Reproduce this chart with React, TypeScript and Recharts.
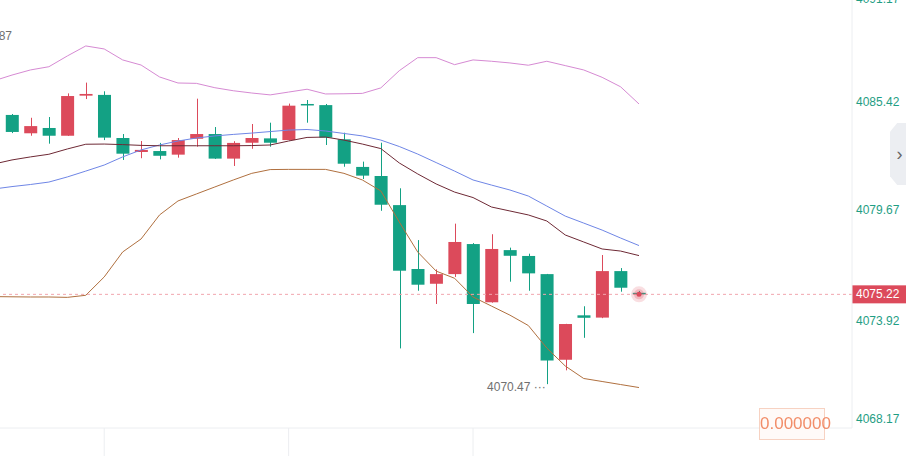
import React from "react";
import {
	ComposedChart,
	Bar,
	Line,
	XAxis,
	YAxis,
	ReferenceLine,
	ReferenceDot,
} from "recharts";

const RED = "#dc4a5b";
const GREEN = "#13a184";
const TICK_GREEN = "#1f9e84";
const GRID = "#eceef1";

// candle index (-1 is only used by the indicator lines, off the left edge)
const idx = [-1, 0, 1, 2, 3, 4, 5, 6, 7, 8, 9, 10, 11, 12, 13, 14, 15, 16, 17, 18, 19, 20, 21, 22, 23, 24, 25, 26, 27, 28, 29, 30, 31, 32, 33, 34];

const opens = [null, 4084.71, 4083.74, 4084.02, 4083.61, 4085.73, 4085.77, 4083.49, 4082.75, 4082.8, 4082.61, 4083.45, 4083.7, 4082.4, 4083.24, 4083.47, 4083.38, 4085.29, 4085.23, 4083.42, 4081.96, 4081.48, 4079.94, 4076.56, 4075.78, 4076.29, 4077.88, 4074.8, 4077.56, 4077.25, 4076.29, 4071.76, 4074.11, 4073.99, 4076.45, 4075.3];
const highs = [null, 4084.76, 4084.56, 4084.6, 4085.85, 4086.42, 4085.96, 4083.7, 4083.33, 4083.23, 4083.49, 4085.57, 4084.07, 4083.32, 4084.23, 4084.3, 4085.31, 4085.5, 4085.29, 4083.77, 4082.24, 4083.24, 4080.83, 4078.09, 4076.54, 4078.96, 4077.93, 4078.4, 4077.69, 4077.37, 4076.3, 4073.66, 4074.59, 4077.3, 4076.61, 4075.4];
const lows = [null, 4083.75, 4083.61, 4083.19, 4083.6, 4085.55, 4083.38, 4082.33, 4082.42, 4082.36, 4082.45, 4083.03, 4082.38, 4082.01, 4082.92, 4083.03, 4083.36, 4084.3, 4083.12, 4081.97, 4081.32, 4079.64, 4072.36, 4075.41, 4074.71, 4076.14, 4073.17, 4074.78, 4075.89, 4075.41, 4070.47, 4071.2, 4072.92, 4073.96, 4075.36, 4075.15];
const closes = [null, 4083.81, 4084.12, 4083.61, 4085.71, 4085.82, 4083.51, 4082.66, 4082.86, 4082.55, 4083.38, 4083.7, 4082.4, 4083.23, 4083.49, 4083.24, 4085.2, 4085.24, 4083.51, 4082.13, 4081.5, 4079.96, 4076.47, 4075.73, 4076.29, 4077.99, 4074.71, 4077.62, 4077.26, 4076.33, 4071.72, 4073.65, 4073.98, 4076.45, 4075.57, 4075.22];

const upperBand = [4086.51, 4086.82, 4087.09, 4087.26, 4087.83, 4088.36, 4088.2, 4087.62, 4087.35, 4086.72, 4086.4, 4086.38, 4086.15, 4085.99, 4085.87, 4085.77, 4085.92, 4086.07, 4085.82, 4085.83, 4085.85, 4086.14, 4087.05, 4087.74, 4087.74, 4087.37, 4087.62, 4087.55, 4087.46, 4087.34, 4087.55, 4087.32, 4087.09, 4086.7, 4086.2, 4085.29];
const midBand = [4080.79, 4080.92, 4081.03, 4081.16, 4081.43, 4081.74, 4082.06, 4082.49, 4082.86, 4083.12, 4083.33, 4083.49, 4083.6, 4083.68, 4083.75, 4083.83, 4083.91, 4083.94, 4083.86, 4083.73, 4083.6, 4083.38, 4083.04, 4082.64, 4082.19, 4081.74, 4081.27, 4081.0, 4080.74, 4080.42, 4079.89, 4079.36, 4078.99, 4078.62, 4078.2, 4077.8];
const lowerBand = [4075.1, 4075.09, 4075.08, 4075.08, 4075.06, 4075.17, 4076.14, 4077.46, 4078.15, 4079.42, 4080.16, 4080.53, 4080.9, 4081.27, 4081.62, 4081.82, 4081.83, 4081.83, 4081.83, 4081.62, 4081.27, 4080.69, 4079.05, 4077.46, 4076.45, 4076.07, 4075.08, 4074.6, 4074.12, 4073.57, 4072.38, 4071.43, 4070.77, 4070.61, 4070.45, 4070.29];
const maLine = [4082.11, 4082.33, 4082.49, 4082.63, 4082.91, 4083.16, 4083.17, 4083.14, 4083.1, 4083.08, 4083.08, 4083.08, 4083.08, 4083.08, 4083.09, 4083.12, 4083.33, 4083.52, 4083.54, 4083.38, 4083.17, 4082.93, 4082.17, 4081.59, 4081.06, 4080.63, 4080.34, 4079.84, 4079.63, 4079.42, 4079.1, 4078.36, 4077.99, 4077.62, 4077.51, 4077.27];

const priceTicks = [4068.17, 4073.92, 4079.67, 4085.42, 4091.17];
const timeTicks = [5, 15, 25];
const lastPrice = 4075.22;
const highMark = 4088.87;
const lowMark = 4070.47;

const rows = idx.map((i, k) => ({
	i,
	open: opens[k],
	high: highs[k],
	low: lows[k],
	close: closes[k],
	upper: upperBand[k],
	mid: midBand[k],
	lower: lowerBand[k],
	ma: maLine[k],
}));

function Candle(props: any) {
	const { x, y, width, height, payload } = props;
	if (!payload || payload.open == null) return null;
	if (!isFinite(x) || !isFinite(y) || !isFinite(height)) return null;
	const { open, close, high, low } = payload;
	const top = Math.min(y, y + height);
	const h = Math.abs(height);
	const ppu = h / (high - low);
	const yOf = (v: number) => top + (high - v) * ppu;
	const color = close > open ? RED : GREEN;
	const bTop = yOf(Math.max(open, close));
	const bBot = yOf(Math.min(open, close));
	const cx = Math.round(x + width / 2) + 0.5;
	return (
		<g>
			<line x1={cx} x2={cx} y1={top} y2={top + h} stroke={color} strokeWidth={1} />
			<rect x={x} y={bTop} width={width} height={Math.max(bBot - bTop, 1.5)} fill={color} />
		</g>
	);
}

function PriceTick({ x, y, payload }: any) {
	// labels at the very top/bottom are held inside the pane
	const yy = Math.min(Math.max(y, -1.5), 419);
	const nudge = Math.abs(payload.value - 4073.92) < 0.01 ? 2 : 0;
	return (
		<text x={x + 4} y={yy + nudge} dy={4} fill={TICK_GREEN} fontSize={12} textAnchor="start">
			{Number(payload.value).toFixed(2)}
		</text>
	);
}

function TimeTick({ x, y }: any) {
	return <line x1={x} x2={x} y1={y} y2={y + 28} stroke={GRID} strokeWidth={1} />;
}

function PriceLabel({ viewBox }: any) {
	if (!viewBox) return null;
	const left = viewBox.x + viewBox.width;
	return (
		<g>
			<rect x={left} y={viewBox.y - 9} width={54} height={18} fill={RED} />
			<text x={left + 4} y={viewBox.y} dy={4} fill="#fff" fontSize={12}>
				{lastPrice.toFixed(2)}
			</text>
		</g>
	);
}

function PulseDot({ cx, cy }: any) {
	return (
		<g>
			<circle cx={cx} cy={cy} r={8} fill="rgba(220,74,91,0.18)" />
			<circle cx={cx} cy={cy} r={5} fill="rgba(220,74,91,0.25)" />
			<circle cx={cx} cy={cy} r={2.5} fill={RED} />
		</g>
	);
}

function HighText({ cx, cy }: any) {
	return (
		<text x={cx} y={cy} dy={4} fill="#707070" fontSize={12} textAnchor="end">
			{highMark.toFixed(2)}
		</text>
	);
}

function LowText({ cx, cy }: any) {
	return (
		<text x={cx - 1} y={cy + 3} dy={4} fill="#707070" fontSize={12} textAnchor="end">
			{`${lowMark.toFixed(2)} ···`}
		</text>
	);
}

export default function App() {
	return (
		<div
			style={{
				position: "absolute",
				left: 0,
				top: 0,
				width: 906,
				height: 456,
				background: "#fff",
				fontFamily: "Arial, 'Liberation Sans', sans-serif",
				overflow: "hidden",
			}}
		>
			<ComposedChart
				width={906}
				height={456}
				data={rows}
				margin={{ top: 0, right: 0, bottom: 0, left: 0 }}
			>
				<XAxis
					dataKey="i"
					type="number"
					domain={[-0.651, 45.55]}
					allowDataOverflow
					ticks={timeTicks}
					tick={<TimeTick />}
					tickLine={false}
					tickSize={0}
					tickMargin={0}
					interval={0}
					height={28}
					axisLine={{ stroke: GRID }}
				/>
				<YAxis
					orientation="right"
					type="number"
					domain={[4068.15, 4090.79]}
					allowDataOverflow
					ticks={priceTicks}
					tick={<PriceTick />}
					tickLine={false}
					tickSize={0}
					tickMargin={0}
					interval={0}
					width={54}
					axisLine={{ stroke: GRID }}
				/>
				<Bar
					dataKey={(d: any) => (d.high == null ? null : [d.low, d.high])}
					barSize={13}
					shape={<Candle />}
					isAnimationActive={false}
				/>
				<Line dataKey="upper" stroke="#d68ad3" strokeWidth={1} dot={false} isAnimationActive={false} />
				<Line dataKey="mid" stroke="#6f86e6" strokeWidth={1} dot={false} isAnimationActive={false} />
				<Line dataKey="lower" stroke="#b0703f" strokeWidth={1} dot={false} isAnimationActive={false} />
				<Line dataKey="ma" stroke="#6e2935" strokeWidth={1} dot={false} isAnimationActive={false} />
				<ReferenceLine
					y={lastPrice}
					stroke="#f1a6ae"
					strokeDasharray="3 3"
					label={<PriceLabel />}
				/>
				<ReferenceDot x={34} y={lastPrice} r={3} shape={<PulseDot />} />
				<ReferenceDot x={0} y={highMark} r={0} shape={<HighText />} />
				<ReferenceDot x={29} y={lowMark} r={0} shape={<LowText />} />
			</ComposedChart>
			<div
				style={{
					position: "absolute",
					left: 890,
					top: 123,
					width: 16,
					height: 62,
					background: "#eceef2",
					clipPath: "polygon(45% 0, 100% 0, 100% 100%, 45% 100%, 0 86%, 0 14%)",
					color: "#666",
					fontSize: 18,
					lineHeight: "62px",
					textAlign: "center",
					paddingLeft: 3,
					boxSizing: "border-box",
				}}
			>
				›
			</div>
			<div
				style={{
					position: "absolute",
					left: 759,
					top: 408,
					width: 66,
					height: 32,
					border: "1px solid #f6cbb8",
					background: "#fffaf7",
					color: "#f07a50",
					fontSize: 17,
					lineHeight: "30px",
					textAlign: "center",
					boxSizing: "border-box",
					filter: "blur(0.7px)",
					opacity: 0.85,
				}}
			>
				0.000000
			</div>
		</div>
	);
}
